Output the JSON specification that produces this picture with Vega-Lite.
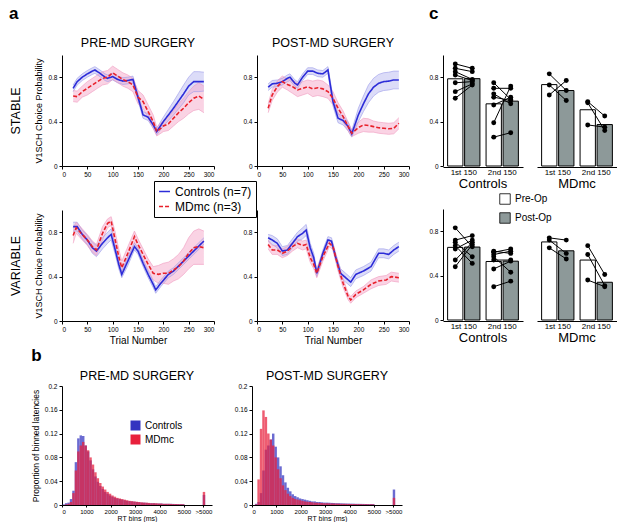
{
  "$schema": "https://vega.github.io/schema/vega-lite/v6.json",
  "padding": {"left": 9, "top": 4, "right": 1, "bottom": 1},
  "config": {
    "font": "Liberation Sans",
    "view": {"stroke": null},
    "title": {"font": "Liberation Sans", "fontSize": 12.5, "fontWeight": "normal", "color": "black", "offset": 6},
    "axis": {"grid": false, "labelOverlap": false, "labelFont": "Liberation Sans", "labelFontSize": 6.5, "labelColor": "black", "titleFont": "Liberation Sans", "titleFontSize": 9, "titleFontWeight": "normal", "titleColor": "black", "domainColor": "black", "tickColor": "black", "tickSize": 3, "labelPadding": 2, "titlePadding": 3},
    "axisY": {"titlePadding": 4},
    "header": {"labelFont": "Liberation Sans", "labelColor": "black"},
    "legend": {"labelFont": "Liberation Sans", "labelColor": "black"}
  },
  "datasets": {
    "curves": [
      {"p":"SPre","g":"C","t":22,"m":0.7,"lo":0.67,"hi":0.73},{"p":"SPre","g":"C","t":30,"m":0.76,"lo":0.73,"hi":0.79},{"p":"SPre","g":"C","t":40,"m":0.8,"lo":0.77,"hi":0.83},{"p":"SPre","g":"C","t":50,"m":0.83,"lo":0.8,"hi":0.86},{"p":"SPre","g":"C","t":60,"m":0.855,"lo":0.825,"hi":0.885},{"p":"SPre","g":"C","t":65,"m":0.865,"lo":0.835,"hi":0.895},{"p":"SPre","g":"C","t":75,"m":0.835,"lo":0.805,"hi":0.865},{"p":"SPre","g":"C","t":85,"m":0.8,"lo":0.77,"hi":0.83},{"p":"SPre","g":"C","t":90,"m":0.79,"lo":0.76,"hi":0.82},{"p":"SPre","g":"C","t":100,"m":0.805,"lo":0.775,"hi":0.835},{"p":"SPre","g":"C","t":110,"m":0.78,"lo":0.75,"hi":0.81},{"p":"SPre","g":"C","t":120,"m":0.765,"lo":0.735,"hi":0.795},{"p":"SPre","g":"C","t":130,"m":0.77,"lo":0.74,"hi":0.8},{"p":"SPre","g":"C","t":140,"m":0.78,"lo":0.75,"hi":0.81},{"p":"SPre","g":"C","t":150,"m":0.62,"lo":0.59,"hi":0.65},{"p":"SPre","g":"C","t":160,"m":0.46,"lo":0.43,"hi":0.49},{"p":"SPre","g":"C","t":170,"m":0.44,"lo":0.41,"hi":0.47},{"p":"SPre","g":"C","t":180,"m":0.37,"lo":0.34,"hi":0.4},{"p":"SPre","g":"C","t":187,"m":0.31,"lo":0.28,"hi":0.34},{"p":"SPre","g":"C","t":200,"m":0.4,"lo":0.36,"hi":0.44},{"p":"SPre","g":"C","t":210,"m":0.46,"lo":0.41,"hi":0.51},{"p":"SPre","g":"C","t":220,"m":0.52,"lo":0.46,"hi":0.58},{"p":"SPre","g":"C","t":230,"m":0.585,"lo":0.515,"hi":0.655},{"p":"SPre","g":"C","t":240,"m":0.65,"lo":0.57,"hi":0.73},{"p":"SPre","g":"C","t":250,"m":0.72,"lo":0.64,"hi":0.8},{"p":"SPre","g":"C","t":260,"m":0.76,"lo":0.67,"hi":0.85},{"p":"SPre","g":"C","t":270,"m":0.76,"lo":0.67,"hi":0.85},{"p":"SPre","g":"C","t":280,"m":0.76,"lo":0.675,"hi":0.845},
      {"p":"SPre","g":"M","t":22,"m":0.63,"lo":0.58,"hi":0.68},{"p":"SPre","g":"M","t":30,"m":0.625,"lo":0.575,"hi":0.675},{"p":"SPre","g":"M","t":40,"m":0.67,"lo":0.62,"hi":0.72},{"p":"SPre","g":"M","t":50,"m":0.7,"lo":0.64,"hi":0.76},{"p":"SPre","g":"M","t":60,"m":0.73,"lo":0.67,"hi":0.79},{"p":"SPre","g":"M","t":70,"m":0.76,"lo":0.7,"hi":0.82},{"p":"SPre","g":"M","t":80,"m":0.79,"lo":0.73,"hi":0.85},{"p":"SPre","g":"M","t":90,"m":0.8,"lo":0.74,"hi":0.86},{"p":"SPre","g":"M","t":100,"m":0.84,"lo":0.78,"hi":0.9},{"p":"SPre","g":"M","t":110,"m":0.81,"lo":0.75,"hi":0.87},{"p":"SPre","g":"M","t":120,"m":0.78,"lo":0.72,"hi":0.84},{"p":"SPre","g":"M","t":130,"m":0.76,"lo":0.7,"hi":0.82},{"p":"SPre","g":"M","t":140,"m":0.73,"lo":0.67,"hi":0.79},{"p":"SPre","g":"M","t":150,"m":0.62,"lo":0.56,"hi":0.68},{"p":"SPre","g":"M","t":160,"m":0.58,"lo":0.52,"hi":0.64},{"p":"SPre","g":"M","t":170,"m":0.49,"lo":0.43,"hi":0.55},{"p":"SPre","g":"M","t":180,"m":0.4,"lo":0.34,"hi":0.46},{"p":"SPre","g":"M","t":187,"m":0.31,"lo":0.27,"hi":0.35},{"p":"SPre","g":"M","t":200,"m":0.36,"lo":0.31,"hi":0.41},{"p":"SPre","g":"M","t":210,"m":0.38,"lo":0.32,"hi":0.44},{"p":"SPre","g":"M","t":220,"m":0.43,"lo":0.36,"hi":0.5},{"p":"SPre","g":"M","t":230,"m":0.48,"lo":0.4,"hi":0.56},{"p":"SPre","g":"M","t":240,"m":0.52,"lo":0.43,"hi":0.61},{"p":"SPre","g":"M","t":250,"m":0.57,"lo":0.47,"hi":0.67},{"p":"SPre","g":"M","t":260,"m":0.61,"lo":0.5,"hi":0.72},{"p":"SPre","g":"M","t":270,"m":0.63,"lo":0.51,"hi":0.75},{"p":"SPre","g":"M","t":280,"m":0.6,"lo":0.48,"hi":0.72},
      {"p":"SPost","g":"C","t":22,"m":0.71,"lo":0.68,"hi":0.74},{"p":"SPost","g":"C","t":30,"m":0.74,"lo":0.71,"hi":0.77},{"p":"SPost","g":"C","t":40,"m":0.745,"lo":0.715,"hi":0.775},{"p":"SPost","g":"C","t":50,"m":0.76,"lo":0.73,"hi":0.79},{"p":"SPost","g":"C","t":60,"m":0.79,"lo":0.76,"hi":0.82},{"p":"SPost","g":"C","t":65,"m":0.8,"lo":0.77,"hi":0.83},{"p":"SPost","g":"C","t":75,"m":0.745,"lo":0.715,"hi":0.775},{"p":"SPost","g":"C","t":80,"m":0.73,"lo":0.7,"hi":0.76},{"p":"SPost","g":"C","t":90,"m":0.8,"lo":0.77,"hi":0.83},{"p":"SPost","g":"C","t":100,"m":0.855,"lo":0.825,"hi":0.885},{"p":"SPost","g":"C","t":110,"m":0.855,"lo":0.825,"hi":0.885},{"p":"SPost","g":"C","t":120,"m":0.835,"lo":0.805,"hi":0.865},{"p":"SPost","g":"C","t":130,"m":0.83,"lo":0.8,"hi":0.86},{"p":"SPost","g":"C","t":140,"m":0.865,"lo":0.835,"hi":0.895},{"p":"SPost","g":"C","t":150,"m":0.58,"lo":0.54,"hi":0.62},{"p":"SPost","g":"C","t":160,"m":0.43,"lo":0.39,"hi":0.47},{"p":"SPost","g":"C","t":170,"m":0.41,"lo":0.37,"hi":0.45},{"p":"SPost","g":"C","t":180,"m":0.355,"lo":0.315,"hi":0.395},{"p":"SPost","g":"C","t":187,"m":0.29,"lo":0.26,"hi":0.32},{"p":"SPost","g":"C","t":200,"m":0.46,"lo":0.4,"hi":0.52},{"p":"SPost","g":"C","t":210,"m":0.56,"lo":0.49,"hi":0.63},{"p":"SPost","g":"C","t":220,"m":0.65,"lo":0.57,"hi":0.73},{"p":"SPost","g":"C","t":230,"m":0.71,"lo":0.63,"hi":0.79},{"p":"SPost","g":"C","t":240,"m":0.745,"lo":0.665,"hi":0.825},{"p":"SPost","g":"C","t":250,"m":0.76,"lo":0.68,"hi":0.84},{"p":"SPost","g":"C","t":260,"m":0.765,"lo":0.685,"hi":0.845},{"p":"SPost","g":"C","t":270,"m":0.775,"lo":0.695,"hi":0.855},{"p":"SPost","g":"C","t":280,"m":0.775,"lo":0.695,"hi":0.855},
      {"p":"SPost","g":"M","t":22,"m":0.52,"lo":0.48,"hi":0.56},{"p":"SPost","g":"M","t":30,"m":0.64,"lo":0.59,"hi":0.69},{"p":"SPost","g":"M","t":40,"m":0.715,"lo":0.665,"hi":0.765},{"p":"SPost","g":"M","t":50,"m":0.76,"lo":0.71,"hi":0.81},{"p":"SPost","g":"M","t":60,"m":0.735,"lo":0.685,"hi":0.785},{"p":"SPost","g":"M","t":70,"m":0.715,"lo":0.655,"hi":0.775},{"p":"SPost","g":"M","t":80,"m":0.685,"lo":0.625,"hi":0.745},{"p":"SPost","g":"M","t":90,"m":0.7,"lo":0.64,"hi":0.76},{"p":"SPost","g":"M","t":100,"m":0.715,"lo":0.655,"hi":0.775},{"p":"SPost","g":"M","t":110,"m":0.695,"lo":0.625,"hi":0.765},{"p":"SPost","g":"M","t":120,"m":0.705,"lo":0.635,"hi":0.775},{"p":"SPost","g":"M","t":130,"m":0.695,"lo":0.625,"hi":0.765},{"p":"SPost","g":"M","t":140,"m":0.67,"lo":0.61,"hi":0.73},{"p":"SPost","g":"M","t":150,"m":0.61,"lo":0.55,"hi":0.67},{"p":"SPost","g":"M","t":160,"m":0.52,"lo":0.47,"hi":0.57},{"p":"SPost","g":"M","t":170,"m":0.445,"lo":0.395,"hi":0.495},{"p":"SPost","g":"M","t":180,"m":0.355,"lo":0.315,"hi":0.395},{"p":"SPost","g":"M","t":187,"m":0.295,"lo":0.265,"hi":0.325},{"p":"SPost","g":"M","t":200,"m":0.345,"lo":0.295,"hi":0.395},{"p":"SPost","g":"M","t":210,"m":0.37,"lo":0.31,"hi":0.43},{"p":"SPost","g":"M","t":220,"m":0.365,"lo":0.305,"hi":0.425},{"p":"SPost","g":"M","t":230,"m":0.355,"lo":0.305,"hi":0.405},{"p":"SPost","g":"M","t":240,"m":0.345,"lo":0.295,"hi":0.395},{"p":"SPost","g":"M","t":250,"m":0.34,"lo":0.29,"hi":0.39},{"p":"SPost","g":"M","t":260,"m":0.335,"lo":0.285,"hi":0.385},{"p":"SPost","g":"M","t":270,"m":0.34,"lo":0.29,"hi":0.39},{"p":"SPost","g":"M","t":280,"m":0.385,"lo":0.335,"hi":0.435},
      {"p":"VPre","g":"C","t":22,"m":0.85,"lo":0.81,"hi":0.89},{"p":"VPre","g":"C","t":30,"m":0.85,"lo":0.81,"hi":0.89},{"p":"VPre","g":"C","t":40,"m":0.78,"lo":0.74,"hi":0.82},{"p":"VPre","g":"C","t":50,"m":0.73,"lo":0.69,"hi":0.77},{"p":"VPre","g":"C","t":60,"m":0.66,"lo":0.61,"hi":0.71},{"p":"VPre","g":"C","t":68,"m":0.63,"lo":0.58,"hi":0.68},{"p":"VPre","g":"C","t":80,"m":0.7,"lo":0.65,"hi":0.75},{"p":"VPre","g":"C","t":90,"m":0.75,"lo":0.7,"hi":0.8},{"p":"VPre","g":"C","t":97,"m":0.78,"lo":0.73,"hi":0.83},{"p":"VPre","g":"C","t":105,"m":0.64,"lo":0.6,"hi":0.68},{"p":"VPre","g":"C","t":112,"m":0.51,"lo":0.47,"hi":0.55},{"p":"VPre","g":"C","t":118,"m":0.42,"lo":0.39,"hi":0.45},{"p":"VPre","g":"C","t":130,"m":0.54,"lo":0.5,"hi":0.58},{"p":"VPre","g":"C","t":143,"m":0.67,"lo":0.64,"hi":0.7},{"p":"VPre","g":"C","t":150,"m":0.63,"lo":0.6,"hi":0.66},{"p":"VPre","g":"C","t":160,"m":0.52,"lo":0.49,"hi":0.55},{"p":"VPre","g":"C","t":170,"m":0.42,"lo":0.39,"hi":0.45},{"p":"VPre","g":"C","t":180,"m":0.33,"lo":0.3,"hi":0.36},{"p":"VPre","g":"C","t":185,"m":0.28,"lo":0.25,"hi":0.31},{"p":"VPre","g":"C","t":195,"m":0.34,"lo":0.31,"hi":0.37},{"p":"VPre","g":"C","t":210,"m":0.42,"lo":0.39,"hi":0.45},{"p":"VPre","g":"C","t":220,"m":0.45,"lo":0.42,"hi":0.48},{"p":"VPre","g":"C","t":240,"m":0.54,"lo":0.51,"hi":0.57},{"p":"VPre","g":"C","t":260,"m":0.63,"lo":0.6,"hi":0.66},{"p":"VPre","g":"C","t":280,"m":0.72,"lo":0.69,"hi":0.75},
      {"p":"VPre","g":"M","t":22,"m":0.77,"lo":0.7,"hi":0.84},{"p":"VPre","g":"M","t":28,"m":0.84,"lo":0.79,"hi":0.89},{"p":"VPre","g":"M","t":40,"m":0.78,"lo":0.73,"hi":0.83},{"p":"VPre","g":"M","t":50,"m":0.73,"lo":0.68,"hi":0.78},{"p":"VPre","g":"M","t":60,"m":0.67,"lo":0.62,"hi":0.72},{"p":"VPre","g":"M","t":68,"m":0.64,"lo":0.59,"hi":0.69},{"p":"VPre","g":"M","t":80,"m":0.79,"lo":0.73,"hi":0.85},{"p":"VPre","g":"M","t":90,"m":0.88,"lo":0.84,"hi":0.92},{"p":"VPre","g":"M","t":97,"m":0.9,"lo":0.86,"hi":0.94},{"p":"VPre","g":"M","t":105,"m":0.73,"lo":0.66,"hi":0.8},{"p":"VPre","g":"M","t":112,"m":0.58,"lo":0.51,"hi":0.65},{"p":"VPre","g":"M","t":118,"m":0.48,"lo":0.42,"hi":0.54},{"p":"VPre","g":"M","t":130,"m":0.61,"lo":0.55,"hi":0.67},{"p":"VPre","g":"M","t":143,"m":0.76,"lo":0.71,"hi":0.81},{"p":"VPre","g":"M","t":150,"m":0.69,"lo":0.64,"hi":0.74},{"p":"VPre","g":"M","t":160,"m":0.6,"lo":0.55,"hi":0.65},{"p":"VPre","g":"M","t":170,"m":0.51,"lo":0.46,"hi":0.56},{"p":"VPre","g":"M","t":180,"m":0.43,"lo":0.37,"hi":0.49},{"p":"VPre","g":"M","t":190,"m":0.42,"lo":0.34,"hi":0.5},{"p":"VPre","g":"M","t":200,"m":0.43,"lo":0.34,"hi":0.52},{"p":"VPre","g":"M","t":210,"m":0.43,"lo":0.33,"hi":0.53},{"p":"VPre","g":"M","t":220,"m":0.46,"lo":0.36,"hi":0.56},{"p":"VPre","g":"M","t":230,"m":0.49,"lo":0.38,"hi":0.6},{"p":"VPre","g":"M","t":240,"m":0.54,"lo":0.42,"hi":0.66},{"p":"VPre","g":"M","t":250,"m":0.61,"lo":0.47,"hi":0.75},{"p":"VPre","g":"M","t":260,"m":0.66,"lo":0.51,"hi":0.81},{"p":"VPre","g":"M","t":270,"m":0.67,"lo":0.51,"hi":0.83},{"p":"VPre","g":"M","t":280,"m":0.66,"lo":0.51,"hi":0.81},
      {"p":"VPost","g":"C","t":22,"m":0.75,"lo":0.72,"hi":0.78},{"p":"VPost","g":"C","t":30,"m":0.73,"lo":0.69,"hi":0.77},{"p":"VPost","g":"C","t":40,"m":0.7,"lo":0.66,"hi":0.74},{"p":"VPost","g":"C","t":50,"m":0.63,"lo":0.59,"hi":0.67},{"p":"VPost","g":"C","t":60,"m":0.64,"lo":0.6,"hi":0.68},{"p":"VPost","g":"C","t":70,"m":0.7,"lo":0.66,"hi":0.74},{"p":"VPost","g":"C","t":80,"m":0.76,"lo":0.72,"hi":0.8},{"p":"VPost","g":"C","t":90,"m":0.79,"lo":0.74,"hi":0.84},{"p":"VPost","g":"C","t":97,"m":0.82,"lo":0.77,"hi":0.87},{"p":"VPost","g":"C","t":105,"m":0.66,"lo":0.62,"hi":0.7},{"p":"VPost","g":"C","t":112,"m":0.57,"lo":0.53,"hi":0.61},{"p":"VPost","g":"C","t":118,"m":0.43,"lo":0.4,"hi":0.46},{"p":"VPost","g":"C","t":130,"m":0.61,"lo":0.58,"hi":0.64},{"p":"VPost","g":"C","t":140,"m":0.73,"lo":0.7,"hi":0.76},{"p":"VPost","g":"C","t":147,"m":0.72,"lo":0.69,"hi":0.75},{"p":"VPost","g":"C","t":155,"m":0.58,"lo":0.55,"hi":0.61},{"p":"VPost","g":"C","t":165,"m":0.43,"lo":0.39,"hi":0.47},{"p":"VPost","g":"C","t":175,"m":0.39,"lo":0.35,"hi":0.43},{"p":"VPost","g":"C","t":185,"m":0.35,"lo":0.31,"hi":0.39},{"p":"VPost","g":"C","t":195,"m":0.42,"lo":0.38,"hi":0.46},{"p":"VPost","g":"C","t":210,"m":0.45,"lo":0.41,"hi":0.49},{"p":"VPost","g":"C","t":225,"m":0.49,"lo":0.45,"hi":0.53},{"p":"VPost","g":"C","t":240,"m":0.61,"lo":0.57,"hi":0.65},{"p":"VPost","g":"C","t":250,"m":0.61,"lo":0.57,"hi":0.65},{"p":"VPost","g":"C","t":260,"m":0.6,"lo":0.56,"hi":0.64},{"p":"VPost","g":"C","t":270,"m":0.64,"lo":0.6,"hi":0.68},{"p":"VPost","g":"C","t":280,"m":0.67,"lo":0.63,"hi":0.71},
      {"p":"VPost","g":"M","t":22,"m":0.69,"lo":0.65,"hi":0.73},{"p":"VPost","g":"M","t":30,"m":0.64,"lo":0.6,"hi":0.68},{"p":"VPost","g":"M","t":40,"m":0.64,"lo":0.6,"hi":0.68},{"p":"VPost","g":"M","t":50,"m":0.61,"lo":0.57,"hi":0.65},{"p":"VPost","g":"M","t":60,"m":0.63,"lo":0.59,"hi":0.67},{"p":"VPost","g":"M","t":70,"m":0.67,"lo":0.63,"hi":0.71},{"p":"VPost","g":"M","t":80,"m":0.7,"lo":0.66,"hi":0.74},{"p":"VPost","g":"M","t":90,"m":0.68,"lo":0.64,"hi":0.72},{"p":"VPost","g":"M","t":97,"m":0.69,"lo":0.65,"hi":0.73},{"p":"VPost","g":"M","t":105,"m":0.57,"lo":0.53,"hi":0.61},{"p":"VPost","g":"M","t":112,"m":0.51,"lo":0.47,"hi":0.55},{"p":"VPost","g":"M","t":118,"m":0.43,"lo":0.39,"hi":0.47},{"p":"VPost","g":"M","t":130,"m":0.58,"lo":0.54,"hi":0.62},{"p":"VPost","g":"M","t":143,"m":0.7,"lo":0.67,"hi":0.73},{"p":"VPost","g":"M","t":150,"m":0.67,"lo":0.64,"hi":0.7},{"p":"VPost","g":"M","t":160,"m":0.49,"lo":0.45,"hi":0.53},{"p":"VPost","g":"M","t":170,"m":0.34,"lo":0.3,"hi":0.38},{"p":"VPost","g":"M","t":180,"m":0.22,"lo":0.19,"hi":0.25},{"p":"VPost","g":"M","t":185,"m":0.19,"lo":0.16,"hi":0.22},{"p":"VPost","g":"M","t":195,"m":0.24,"lo":0.21,"hi":0.27},{"p":"VPost","g":"M","t":210,"m":0.28,"lo":0.25,"hi":0.31},{"p":"VPost","g":"M","t":225,"m":0.33,"lo":0.29,"hi":0.37},{"p":"VPost","g":"M","t":240,"m":0.36,"lo":0.32,"hi":0.4},{"p":"VPost","g":"M","t":255,"m":0.37,"lo":0.33,"hi":0.41},{"p":"VPost","g":"M","t":265,"m":0.4,"lo":0.36,"hi":0.44},{"p":"VPost","g":"M","t":280,"m":0.39,"lo":0.35,"hi":0.43}
    ],
    "dots": [
      {"s":"S","grp":"Controls","per":"1st 150","id":1,"op":"Pre-Op","v":0.92},{"s":"S","grp":"Controls","per":"1st 150","id":1,"op":"Post-Op","v":0.88},
      {"s":"S","grp":"Controls","per":"1st 150","id":2,"op":"Pre-Op","v":0.88},{"s":"S","grp":"Controls","per":"1st 150","id":2,"op":"Post-Op","v":0.85},
      {"s":"S","grp":"Controls","per":"1st 150","id":3,"op":"Pre-Op","v":0.85},{"s":"S","grp":"Controls","per":"1st 150","id":3,"op":"Post-Op","v":0.78},
      {"s":"S","grp":"Controls","per":"1st 150","id":4,"op":"Pre-Op","v":0.82},{"s":"S","grp":"Controls","per":"1st 150","id":4,"op":"Post-Op","v":0.77},
      {"s":"S","grp":"Controls","per":"1st 150","id":5,"op":"Pre-Op","v":0.75},{"s":"S","grp":"Controls","per":"1st 150","id":5,"op":"Post-Op","v":0.76},
      {"s":"S","grp":"Controls","per":"1st 150","id":6,"op":"Pre-Op","v":0.67},{"s":"S","grp":"Controls","per":"1st 150","id":6,"op":"Post-Op","v":0.74},
      {"s":"S","grp":"Controls","per":"1st 150","id":7,"op":"Pre-Op","v":0.61},{"s":"S","grp":"Controls","per":"1st 150","id":7,"op":"Post-Op","v":0.73},
      {"s":"S","grp":"Controls","per":"2nd 150","id":1,"op":"Pre-Op","v":0.75},{"s":"S","grp":"Controls","per":"2nd 150","id":1,"op":"Post-Op","v":0.6},
      {"s":"S","grp":"Controls","per":"2nd 150","id":2,"op":"Pre-Op","v":0.7},{"s":"S","grp":"Controls","per":"2nd 150","id":2,"op":"Post-Op","v":0.7},
      {"s":"S","grp":"Controls","per":"2nd 150","id":3,"op":"Pre-Op","v":0.65},{"s":"S","grp":"Controls","per":"2nd 150","id":3,"op":"Post-Op","v":0.56},
      {"s":"S","grp":"Controls","per":"2nd 150","id":4,"op":"Pre-Op","v":0.62},{"s":"S","grp":"Controls","per":"2nd 150","id":4,"op":"Post-Op","v":0.59},
      {"s":"S","grp":"Controls","per":"2nd 150","id":5,"op":"Pre-Op","v":0.55},{"s":"S","grp":"Controls","per":"2nd 150","id":5,"op":"Post-Op","v":0.62},
      {"s":"S","grp":"Controls","per":"2nd 150","id":6,"op":"Pre-Op","v":0.39},{"s":"S","grp":"Controls","per":"2nd 150","id":6,"op":"Post-Op","v":0.72},
      {"s":"S","grp":"Controls","per":"2nd 150","id":7,"op":"Pre-Op","v":0.26},{"s":"S","grp":"Controls","per":"2nd 150","id":7,"op":"Post-Op","v":0.3},
      {"s":"S","grp":"MDmc","per":"1st 150","id":8,"op":"Pre-Op","v":0.83},{"s":"S","grp":"MDmc","per":"1st 150","id":8,"op":"Post-Op","v":0.68},
      {"s":"S","grp":"MDmc","per":"1st 150","id":9,"op":"Pre-Op","v":0.73},{"s":"S","grp":"MDmc","per":"1st 150","id":9,"op":"Post-Op","v":0.59},
      {"s":"S","grp":"MDmc","per":"1st 150","id":10,"op":"Pre-Op","v":0.64},{"s":"S","grp":"MDmc","per":"1st 150","id":10,"op":"Post-Op","v":0.77},
      {"s":"S","grp":"MDmc","per":"2nd 150","id":8,"op":"Pre-Op","v":0.58},{"s":"S","grp":"MDmc","per":"2nd 150","id":8,"op":"Post-Op","v":0.45},
      {"s":"S","grp":"MDmc","per":"2nd 150","id":9,"op":"Pre-Op","v":0.57},{"s":"S","grp":"MDmc","per":"2nd 150","id":9,"op":"Post-Op","v":0.32},
      {"s":"S","grp":"MDmc","per":"2nd 150","id":10,"op":"Pre-Op","v":0.37},{"s":"S","grp":"MDmc","per":"2nd 150","id":10,"op":"Post-Op","v":0.35},
      {"s":"V","grp":"Controls","per":"1st 150","id":1,"op":"Pre-Op","v":0.83},{"s":"V","grp":"Controls","per":"1st 150","id":1,"op":"Post-Op","v":0.66},
      {"s":"V","grp":"Controls","per":"1st 150","id":2,"op":"Pre-Op","v":0.72},{"s":"V","grp":"Controls","per":"1st 150","id":2,"op":"Post-Op","v":0.76},
      {"s":"V","grp":"Controls","per":"1st 150","id":3,"op":"Pre-Op","v":0.7},{"s":"V","grp":"Controls","per":"1st 150","id":3,"op":"Post-Op","v":0.57},
      {"s":"V","grp":"Controls","per":"1st 150","id":4,"op":"Pre-Op","v":0.67},{"s":"V","grp":"Controls","per":"1st 150","id":4,"op":"Post-Op","v":0.51},
      {"s":"V","grp":"Controls","per":"1st 150","id":5,"op":"Pre-Op","v":0.64},{"s":"V","grp":"Controls","per":"1st 150","id":5,"op":"Post-Op","v":0.72},
      {"s":"V","grp":"Controls","per":"1st 150","id":6,"op":"Pre-Op","v":0.54},{"s":"V","grp":"Controls","per":"1st 150","id":6,"op":"Post-Op","v":0.7},
      {"s":"V","grp":"Controls","per":"1st 150","id":7,"op":"Pre-Op","v":0.48},{"s":"V","grp":"Controls","per":"1st 150","id":7,"op":"Post-Op","v":0.68},
      {"s":"V","grp":"Controls","per":"2nd 150","id":1,"op":"Pre-Op","v":0.62},{"s":"V","grp":"Controls","per":"2nd 150","id":1,"op":"Post-Op","v":0.6},
      {"s":"V","grp":"Controls","per":"2nd 150","id":2,"op":"Pre-Op","v":0.61},{"s":"V","grp":"Controls","per":"2nd 150","id":2,"op":"Post-Op","v":0.64},
      {"s":"V","grp":"Controls","per":"2nd 150","id":3,"op":"Pre-Op","v":0.59},{"s":"V","grp":"Controls","per":"2nd 150","id":3,"op":"Post-Op","v":0.62},
      {"s":"V","grp":"Controls","per":"2nd 150","id":4,"op":"Pre-Op","v":0.57},{"s":"V","grp":"Controls","per":"2nd 150","id":4,"op":"Post-Op","v":0.43},
      {"s":"V","grp":"Controls","per":"2nd 150","id":5,"op":"Pre-Op","v":0.54},{"s":"V","grp":"Controls","per":"2nd 150","id":5,"op":"Post-Op","v":0.54},
      {"s":"V","grp":"Controls","per":"2nd 150","id":6,"op":"Pre-Op","v":0.46},{"s":"V","grp":"Controls","per":"2nd 150","id":6,"op":"Post-Op","v":0.53},
      {"s":"V","grp":"Controls","per":"2nd 150","id":7,"op":"Pre-Op","v":0.3},{"s":"V","grp":"Controls","per":"2nd 150","id":7,"op":"Post-Op","v":0.35},
      {"s":"V","grp":"MDmc","per":"1st 150","id":8,"op":"Pre-Op","v":0.74},{"s":"V","grp":"MDmc","per":"1st 150","id":8,"op":"Post-Op","v":0.72},
      {"s":"V","grp":"MDmc","per":"1st 150","id":9,"op":"Pre-Op","v":0.72},{"s":"V","grp":"MDmc","per":"1st 150","id":9,"op":"Post-Op","v":0.6},
      {"s":"V","grp":"MDmc","per":"1st 150","id":10,"op":"Pre-Op","v":0.65},{"s":"V","grp":"MDmc","per":"1st 150","id":10,"op":"Post-Op","v":0.55},
      {"s":"V","grp":"MDmc","per":"2nd 150","id":8,"op":"Pre-Op","v":0.67},{"s":"V","grp":"MDmc","per":"2nd 150","id":8,"op":"Post-Op","v":0.41},
      {"s":"V","grp":"MDmc","per":"2nd 150","id":9,"op":"Pre-Op","v":0.59},{"s":"V","grp":"MDmc","per":"2nd 150","id":9,"op":"Post-Op","v":0.31},
      {"s":"V","grp":"MDmc","per":"2nd 150","id":10,"op":"Pre-Op","v":0.36},{"s":"V","grp":"MDmc","per":"2nd 150","id":10,"op":"Post-Op","v":0.3}
    ],
    "hist": [
      {"s":"pre","g":"Controls","b":0,"v":0.001},{"s":"pre","g":"Controls","b":100,"v":0.003},{"s":"pre","g":"Controls","b":200,"v":0.004},{"s":"pre","g":"Controls","b":300,"v":0.01},{"s":"pre","g":"Controls","b":400,"v":0.024},{"s":"pre","g":"Controls","b":500,"v":0.072},{"s":"pre","g":"Controls","b":600,"v":0.112},{"s":"pre","g":"Controls","b":700,"v":0.117},{"s":"pre","g":"Controls","b":800,"v":0.116},{"s":"pre","g":"Controls","b":900,"v":0.1},{"s":"pre","g":"Controls","b":1000,"v":0.09},{"s":"pre","g":"Controls","b":1100,"v":0.075},{"s":"pre","g":"Controls","b":1200,"v":0.06},{"s":"pre","g":"Controls","b":1300,"v":0.048},{"s":"pre","g":"Controls","b":1400,"v":0.039},{"s":"pre","g":"Controls","b":1500,"v":0.032},{"s":"pre","g":"Controls","b":1600,"v":0.027},{"s":"pre","g":"Controls","b":1700,"v":0.022},{"s":"pre","g":"Controls","b":1800,"v":0.019},{"s":"pre","g":"Controls","b":1900,"v":0.016},{"s":"pre","g":"Controls","b":2000,"v":0.014},{"s":"pre","g":"Controls","b":2100,"v":0.012},{"s":"pre","g":"Controls","b":2200,"v":0.011},{"s":"pre","g":"Controls","b":2300,"v":0.01},{"s":"pre","g":"Controls","b":2400,"v":0.009},{"s":"pre","g":"Controls","b":2500,"v":0.008},{"s":"pre","g":"Controls","b":2600,"v":0.007},{"s":"pre","g":"Controls","b":2700,"v":0.0065},{"s":"pre","g":"Controls","b":2800,"v":0.006},{"s":"pre","g":"Controls","b":2900,"v":0.0055},{"s":"pre","g":"Controls","b":3000,"v":0.005},{"s":"pre","g":"Controls","b":3100,"v":0.0045},{"s":"pre","g":"Controls","b":3200,"v":0.004},{"s":"pre","g":"Controls","b":3300,"v":0.004},{"s":"pre","g":"Controls","b":3400,"v":0.0035},{"s":"pre","g":"Controls","b":3500,"v":0.003},{"s":"pre","g":"Controls","b":3600,"v":0.003},{"s":"pre","g":"Controls","b":3700,"v":0.003},{"s":"pre","g":"Controls","b":3800,"v":0.0025},{"s":"pre","g":"Controls","b":3900,"v":0.0025},{"s":"pre","g":"Controls","b":4000,"v":0.0025},{"s":"pre","g":"Controls","b":4100,"v":0.002},{"s":"pre","g":"Controls","b":4200,"v":0.002},{"s":"pre","g":"Controls","b":4300,"v":0.002},{"s":"pre","g":"Controls","b":4400,"v":0.002},{"s":"pre","g":"Controls","b":4500,"v":0.0018},{"s":"pre","g":"Controls","b":4600,"v":0.0016},{"s":"pre","g":"Controls","b":4700,"v":0.0015},{"s":"pre","g":"Controls","b":4800,"v":0.0014},{"s":"pre","g":"Controls","b":4900,"v":0.0013},{"s":"pre","g":"Controls","b":5750,"v":0.017},
      {"s":"pre","g":"MDmc","b":100,"v":0.001},{"s":"pre","g":"MDmc","b":200,"v":0.002},{"s":"pre","g":"MDmc","b":300,"v":0.005},{"s":"pre","g":"MDmc","b":400,"v":0.02},{"s":"pre","g":"MDmc","b":500,"v":0.058},{"s":"pre","g":"MDmc","b":600,"v":0.09},{"s":"pre","g":"MDmc","b":700,"v":0.1},{"s":"pre","g":"MDmc","b":800,"v":0.106},{"s":"pre","g":"MDmc","b":900,"v":0.1},{"s":"pre","g":"MDmc","b":1000,"v":0.092},{"s":"pre","g":"MDmc","b":1100,"v":0.08},{"s":"pre","g":"MDmc","b":1200,"v":0.068},{"s":"pre","g":"MDmc","b":1300,"v":0.055},{"s":"pre","g":"MDmc","b":1400,"v":0.045},{"s":"pre","g":"MDmc","b":1500,"v":0.037},{"s":"pre","g":"MDmc","b":1600,"v":0.031},{"s":"pre","g":"MDmc","b":1700,"v":0.026},{"s":"pre","g":"MDmc","b":1800,"v":0.022},{"s":"pre","g":"MDmc","b":1900,"v":0.019},{"s":"pre","g":"MDmc","b":2000,"v":0.016},{"s":"pre","g":"MDmc","b":2100,"v":0.014},{"s":"pre","g":"MDmc","b":2200,"v":0.012},{"s":"pre","g":"MDmc","b":2300,"v":0.011},{"s":"pre","g":"MDmc","b":2400,"v":0.01},{"s":"pre","g":"MDmc","b":2500,"v":0.009},{"s":"pre","g":"MDmc","b":2600,"v":0.008},{"s":"pre","g":"MDmc","b":2700,"v":0.007},{"s":"pre","g":"MDmc","b":2800,"v":0.0065},{"s":"pre","g":"MDmc","b":2900,"v":0.006},{"s":"pre","g":"MDmc","b":3000,"v":0.0055},{"s":"pre","g":"MDmc","b":3100,"v":0.005},{"s":"pre","g":"MDmc","b":3200,"v":0.0045},{"s":"pre","g":"MDmc","b":3300,"v":0.004},{"s":"pre","g":"MDmc","b":3400,"v":0.004},{"s":"pre","g":"MDmc","b":3500,"v":0.0035},{"s":"pre","g":"MDmc","b":3600,"v":0.003},{"s":"pre","g":"MDmc","b":3700,"v":0.003},{"s":"pre","g":"MDmc","b":3800,"v":0.003},{"s":"pre","g":"MDmc","b":3900,"v":0.0025},{"s":"pre","g":"MDmc","b":4000,"v":0.0025},{"s":"pre","g":"MDmc","b":4100,"v":0.002},{"s":"pre","g":"MDmc","b":4200,"v":0.002},{"s":"pre","g":"MDmc","b":4300,"v":0.002},{"s":"pre","g":"MDmc","b":4400,"v":0.0018},{"s":"pre","g":"MDmc","b":4500,"v":0.0016},{"s":"pre","g":"MDmc","b":4600,"v":0.0015},{"s":"pre","g":"MDmc","b":4700,"v":0.0014},{"s":"pre","g":"MDmc","b":4800,"v":0.0013},{"s":"pre","g":"MDmc","b":4900,"v":0.0012},{"s":"pre","g":"MDmc","b":5750,"v":0.022},
      {"s":"post","g":"Controls","b":100,"v":0.002},{"s":"post","g":"Controls","b":200,"v":0.005},{"s":"post","g":"Controls","b":300,"v":0.02},{"s":"post","g":"Controls","b":400,"v":0.058},{"s":"post","g":"Controls","b":500,"v":0.093},{"s":"post","g":"Controls","b":600,"v":0.1},{"s":"post","g":"Controls","b":700,"v":0.11},{"s":"post","g":"Controls","b":800,"v":0.12},{"s":"post","g":"Controls","b":900,"v":0.098},{"s":"post","g":"Controls","b":1000,"v":0.08},{"s":"post","g":"Controls","b":1100,"v":0.065},{"s":"post","g":"Controls","b":1200,"v":0.05},{"s":"post","g":"Controls","b":1300,"v":0.038},{"s":"post","g":"Controls","b":1400,"v":0.029},{"s":"post","g":"Controls","b":1500,"v":0.023},{"s":"post","g":"Controls","b":1600,"v":0.018},{"s":"post","g":"Controls","b":1700,"v":0.015},{"s":"post","g":"Controls","b":1800,"v":0.013},{"s":"post","g":"Controls","b":1900,"v":0.011},{"s":"post","g":"Controls","b":2000,"v":0.01},{"s":"post","g":"Controls","b":2100,"v":0.009},{"s":"post","g":"Controls","b":2200,"v":0.008},{"s":"post","g":"Controls","b":2300,"v":0.007},{"s":"post","g":"Controls","b":2400,"v":0.006},{"s":"post","g":"Controls","b":2500,"v":0.006},{"s":"post","g":"Controls","b":2600,"v":0.005},{"s":"post","g":"Controls","b":2700,"v":0.005},{"s":"post","g":"Controls","b":2800,"v":0.0045},{"s":"post","g":"Controls","b":2900,"v":0.004},{"s":"post","g":"Controls","b":3000,"v":0.004},{"s":"post","g":"Controls","b":3100,"v":0.0038},{"s":"post","g":"Controls","b":3200,"v":0.0035},{"s":"post","g":"Controls","b":3300,"v":0.0033},{"s":"post","g":"Controls","b":3400,"v":0.003},{"s":"post","g":"Controls","b":3500,"v":0.003},{"s":"post","g":"Controls","b":3600,"v":0.0028},{"s":"post","g":"Controls","b":3700,"v":0.0026},{"s":"post","g":"Controls","b":3800,"v":0.0025},{"s":"post","g":"Controls","b":3900,"v":0.0024},{"s":"post","g":"Controls","b":4000,"v":0.0023},{"s":"post","g":"Controls","b":4100,"v":0.0022},{"s":"post","g":"Controls","b":4200,"v":0.002},{"s":"post","g":"Controls","b":4300,"v":0.002},{"s":"post","g":"Controls","b":4400,"v":0.0019},{"s":"post","g":"Controls","b":4500,"v":0.0018},{"s":"post","g":"Controls","b":4600,"v":0.0017},{"s":"post","g":"Controls","b":4700,"v":0.0016},{"s":"post","g":"Controls","b":4800,"v":0.0016},{"s":"post","g":"Controls","b":4900,"v":0.0015},{"s":"post","g":"Controls","b":5750,"v":0.026},
      {"s":"post","g":"MDmc","b":100,"v":0.001},{"s":"post","g":"MDmc","b":200,"v":0.043},{"s":"post","g":"MDmc","b":300,"v":0.128},{"s":"post","g":"MDmc","b":400,"v":0.159},{"s":"post","g":"MDmc","b":500,"v":0.148},{"s":"post","g":"MDmc","b":600,"v":0.12},{"s":"post","g":"MDmc","b":700,"v":0.11},{"s":"post","g":"MDmc","b":800,"v":0.1},{"s":"post","g":"MDmc","b":900,"v":0.08},{"s":"post","g":"MDmc","b":1000,"v":0.06},{"s":"post","g":"MDmc","b":1100,"v":0.045},{"s":"post","g":"MDmc","b":1200,"v":0.033},{"s":"post","g":"MDmc","b":1300,"v":0.025},{"s":"post","g":"MDmc","b":1400,"v":0.019},{"s":"post","g":"MDmc","b":1500,"v":0.015},{"s":"post","g":"MDmc","b":1600,"v":0.012},{"s":"post","g":"MDmc","b":1700,"v":0.01},{"s":"post","g":"MDmc","b":1800,"v":0.009},{"s":"post","g":"MDmc","b":1900,"v":0.008},{"s":"post","g":"MDmc","b":2000,"v":0.007},{"s":"post","g":"MDmc","b":2100,"v":0.006},{"s":"post","g":"MDmc","b":2200,"v":0.0055},{"s":"post","g":"MDmc","b":2300,"v":0.005},{"s":"post","g":"MDmc","b":2400,"v":0.0045},{"s":"post","g":"MDmc","b":2500,"v":0.004},{"s":"post","g":"MDmc","b":2600,"v":0.0038},{"s":"post","g":"MDmc","b":2700,"v":0.0035},{"s":"post","g":"MDmc","b":2800,"v":0.0033},{"s":"post","g":"MDmc","b":2900,"v":0.003},{"s":"post","g":"MDmc","b":3000,"v":0.003},{"s":"post","g":"MDmc","b":3100,"v":0.0028},{"s":"post","g":"MDmc","b":3200,"v":0.0026},{"s":"post","g":"MDmc","b":3300,"v":0.0025},{"s":"post","g":"MDmc","b":3400,"v":0.0024},{"s":"post","g":"MDmc","b":3500,"v":0.0022},{"s":"post","g":"MDmc","b":3600,"v":0.002},{"s":"post","g":"MDmc","b":3700,"v":0.002},{"s":"post","g":"MDmc","b":3800,"v":0.0019},{"s":"post","g":"MDmc","b":3900,"v":0.0018},{"s":"post","g":"MDmc","b":4000,"v":0.0017},{"s":"post","g":"MDmc","b":4100,"v":0.0016},{"s":"post","g":"MDmc","b":4200,"v":0.0015},{"s":"post","g":"MDmc","b":4300,"v":0.0015},{"s":"post","g":"MDmc","b":4400,"v":0.0014},{"s":"post","g":"MDmc","b":4500,"v":0.0013},{"s":"post","g":"MDmc","b":4600,"v":0.0013},{"s":"post","g":"MDmc","b":4700,"v":0.0012},{"s":"post","g":"MDmc","b":4800,"v":0.0012},{"s":"post","g":"MDmc","b":4900,"v":0.0011},{"s":"post","g":"MDmc","b":5750,"v":0.012}
    ]
  },
  "resolve": {"scale": {"color": "independent", "fill": "independent", "stroke": "independent", "strokeDash": "independent"}, "legend": {"color": "independent", "fill": "independent", "stroke": "independent", "strokeDash": "independent"}},
  "spacing": 0,
  "vconcat": [
    {
      "resolve": {"scale": {"color": "independent", "fill": "independent", "stroke": "independent", "strokeDash": "independent"}, "legend": {"color": "independent", "fill": "independent", "stroke": "independent", "strokeDash": "independent"}},
      "spacing": 18,
      "hconcat": [
        {
          "title": {"text": "a", "anchor": "start", "fontSize": 17, "fontWeight": "bold", "offset": 14},
          "data": {"name": "curves"},
          "resolve": {"scale": {"color": "independent", "fill": "independent", "stroke": "independent", "strokeDash": "independent"}, "legend": {"color": "independent", "fill": "independent", "stroke": "independent", "strokeDash": "independent"}},
          "spacing": 2,
          "vconcat": [
            {
              "resolve": {"scale": {"color": "independent", "fill": "independent", "stroke": "independent", "strokeDash": "independent"}, "legend": {"color": "independent", "fill": "independent", "stroke": "independent", "strokeDash": "independent"}},
              "bounds": "flush",
              "spacing": 43,
              "hconcat": [
                {
                  "width": 152, "height": 111,
                  "title": "PRE-MD SURGERY",
                  "transform": [{"filter": "datum.p == 'SPre'"}],
                  "resolve": {"scale": {"y": "independent"}},
                  "encoding": {"x": {"field": "t", "type": "quantitative", "scale": {"domain": [0, 300]}, "axis": {"values": [0, 50, 100, 150, 200, 250, 300], "title": null}}},
                  "layer": [
                    {"mark": {"type": "area", "fillOpacity": 0.5}, "encoding": {"y": {"field": "lo", "type": "quantitative", "scale": {"domain": [0, 1]}, "title": "STABLE", "axis": {"orient": "left", "labels": false, "ticks": false, "domain": false, "titleFontSize": 12.5, "titlePadding": 40}}, "y2": {"field": "hi"}, "detail": {"field": "g"}, "fill": {"condition": {"test": "datum.g == 'C'", "value": "#b9b9f2"}, "value": "#f5a8c9"}}},
                    {"layer": [
                      {"mark": {"type": "line", "strokeWidth": 0.6}, "encoding": {"y": {"field": "lo", "type": "quantitative", "scale": {"domain": [0, 1]}, "title": "V1SCH Choice Probability", "axis": {"orient": "left", "values": [0, 0.2, 0.4, 0.6, 0.8, 1], "format": "~g"}}, "detail": {"field": "g"}, "stroke": {"condition": {"test": "datum.g == 'C'", "value": "#9a9aea"}, "value": "#f09ac0"}}},
                      {"mark": {"type": "line", "strokeWidth": 0.6}, "encoding": {"y": {"field": "hi", "type": "quantitative", "title": "V1SCH Choice Probability"}, "detail": {"field": "g"}, "stroke": {"condition": {"test": "datum.g == 'C'", "value": "#9a9aea"}, "value": "#f09ac0"}}},
                      {"mark": {"type": "line", "strokeWidth": 1.6}, "encoding": {"y": {"field": "m", "type": "quantitative", "title": "V1SCH Choice Probability"}, "color": {"field": "g", "type": "nominal", "scale": {"domain": ["C", "M"], "range": ["#2c2cd8", "#e8202a"]}, "legend": null}, "strokeDash": {"field": "g", "type": "nominal", "scale": {"domain": ["C", "M"], "range": [[1, 0], [4, 2]]}, "legend": null}}}
                    ]}
                  ]
                },
                {
                  "width": 152, "height": 111,
                  "title": "POST-MD SURGERY",
                  "transform": [{"filter": "datum.p == 'SPost'"}],
                  "encoding": {"x": {"field": "t", "type": "quantitative", "scale": {"domain": [0, 300]}, "axis": {"values": [0, 50, 100, 150, 200, 250, 300], "title": null}}},
                  "layer": [
                    {"mark": {"type": "area", "fillOpacity": 0.5}, "encoding": {"y": {"field": "lo", "type": "quantitative", "scale": {"domain": [0, 1]}, "title": null, "axis": {"values": [0, 0.2, 0.4, 0.6, 0.8, 1], "format": "~g"}}, "y2": {"field": "hi"}, "detail": {"field": "g"}, "fill": {"condition": {"test": "datum.g == 'C'", "value": "#b9b9f2"}, "value": "#f5a8c9"}}},
                    {"mark": {"type": "line", "strokeWidth": 0.6}, "encoding": {"y": {"field": "lo", "type": "quantitative", "title": null}, "detail": {"field": "g"}, "stroke": {"condition": {"test": "datum.g == 'C'", "value": "#9a9aea"}, "value": "#f09ac0"}}},
                    {"mark": {"type": "line", "strokeWidth": 0.6}, "encoding": {"y": {"field": "hi", "type": "quantitative", "title": null}, "detail": {"field": "g"}, "stroke": {"condition": {"test": "datum.g == 'C'", "value": "#9a9aea"}, "value": "#f09ac0"}}},
                    {"mark": {"type": "line", "strokeWidth": 1.6}, "encoding": {"y": {"field": "m", "type": "quantitative", "title": null}, "color": {"field": "g", "type": "nominal", "scale": {"domain": ["C", "M"], "range": ["#2c2cd8", "#e8202a"]}, "legend": null}, "strokeDash": {"field": "g", "type": "nominal", "scale": {"domain": ["C", "M"], "range": [[1, 0], [4, 2]]}, "legend": null}}}
                  ]
                }
              ]
            },
            {
              "resolve": {"scale": {"color": "independent", "fill": "independent", "stroke": "independent", "strokeDash": "independent"}, "legend": {"color": "independent", "fill": "independent", "stroke": "independent", "strokeDash": "independent"}},
              "bounds": "flush",
              "spacing": 43,
              "hconcat": [
                {
                  "width": 152, "height": 111,
                  "transform": [{"filter": "datum.p == 'VPre'"}],
                  "resolve": {"scale": {"y": "independent"}},
                  "encoding": {"x": {"field": "t", "type": "quantitative", "scale": {"domain": [0, 300]}, "axis": {"values": [0, 50, 100, 150, 200, 250, 300], "title": "Trial Number", "titleFontSize": 10}}},
                  "layer": [
                    {"mark": {"type": "area", "fillOpacity": 0.5}, "encoding": {"y": {"field": "lo", "type": "quantitative", "scale": {"domain": [0, 1]}, "title": "VARIABLE", "axis": {"orient": "left", "labels": false, "ticks": false, "domain": false, "titleFontSize": 12.5, "titlePadding": 40}}, "y2": {"field": "hi"}, "detail": {"field": "g"}, "fill": {"condition": {"test": "datum.g == 'C'", "value": "#b9b9f2"}, "value": "#f5a8c9"}}},
                    {"layer": [
                      {"mark": {"type": "line", "strokeWidth": 0.6}, "encoding": {"y": {"field": "lo", "type": "quantitative", "scale": {"domain": [0, 1]}, "title": "V1SCH Choice Probability", "axis": {"orient": "left", "values": [0, 0.2, 0.4, 0.6, 0.8, 1], "format": "~g"}}, "detail": {"field": "g"}, "stroke": {"condition": {"test": "datum.g == 'C'", "value": "#9a9aea"}, "value": "#f09ac0"}}},
                      {"mark": {"type": "line", "strokeWidth": 0.6}, "encoding": {"y": {"field": "hi", "type": "quantitative", "title": "V1SCH Choice Probability"}, "detail": {"field": "g"}, "stroke": {"condition": {"test": "datum.g == 'C'", "value": "#9a9aea"}, "value": "#f09ac0"}}},
                      {"mark": {"type": "line", "strokeWidth": 1.6}, "encoding": {
                        "y": {"field": "m", "type": "quantitative", "title": "V1SCH Choice Probability"},
                        "color": {"field": "g", "type": "nominal", "scale": {"domain": ["C", "M"], "range": ["#2c2cd8", "#e8202a"]}, "legend": {"orient": "none", "legendX": 92, "legendY": -29, "title": null, "strokeColor": "black", "fillColor": "white", "padding": 4, "labelFontSize": 12, "symbolType": "stroke", "symbolStrokeWidth": 1.6, "symbolSize": 120, "rowPadding": 2, "labelExpr": "datum.label == 'C' ? 'Controls (n=7)' : 'MDmc (n=3)'"}},
                        "strokeDash": {"field": "g", "type": "nominal", "scale": {"domain": ["C", "M"], "range": [[1, 0], [4, 2]]}, "legend": {"orient": "none", "legendX": 92, "legendY": -29, "title": null, "strokeColor": "black", "fillColor": "white", "padding": 4, "labelFontSize": 12, "symbolType": "stroke", "symbolStrokeWidth": 1.6, "symbolSize": 120, "rowPadding": 2, "labelExpr": "datum.label == 'C' ? 'Controls (n=7)' : 'MDmc (n=3)'"}}
                      }}
                    ]}
                  ]
                },
                {
                  "width": 152, "height": 111,
                  "transform": [{"filter": "datum.p == 'VPost'"}],
                  "encoding": {"x": {"field": "t", "type": "quantitative", "scale": {"domain": [0, 300]}, "axis": {"values": [0, 50, 100, 150, 200, 250, 300], "title": "Trial Number", "titleFontSize": 10}}},
                  "layer": [
                    {"mark": {"type": "area", "fillOpacity": 0.5}, "encoding": {"y": {"field": "lo", "type": "quantitative", "scale": {"domain": [0, 1]}, "title": null, "axis": {"values": [0, 0.2, 0.4, 0.6, 0.8, 1], "format": "~g"}}, "y2": {"field": "hi"}, "detail": {"field": "g"}, "fill": {"condition": {"test": "datum.g == 'C'", "value": "#b9b9f2"}, "value": "#f5a8c9"}}},
                    {"mark": {"type": "line", "strokeWidth": 0.6}, "encoding": {"y": {"field": "lo", "type": "quantitative", "title": null}, "detail": {"field": "g"}, "stroke": {"condition": {"test": "datum.g == 'C'", "value": "#9a9aea"}, "value": "#f09ac0"}}},
                    {"mark": {"type": "line", "strokeWidth": 0.6}, "encoding": {"y": {"field": "hi", "type": "quantitative", "title": null}, "detail": {"field": "g"}, "stroke": {"condition": {"test": "datum.g == 'C'", "value": "#9a9aea"}, "value": "#f09ac0"}}},
                    {"mark": {"type": "line", "strokeWidth": 1.6}, "encoding": {"y": {"field": "m", "type": "quantitative", "title": null}, "color": {"field": "g", "type": "nominal", "scale": {"domain": ["C", "M"], "range": ["#2c2cd8", "#e8202a"]}, "legend": null}, "strokeDash": {"field": "g", "type": "nominal", "scale": {"domain": ["C", "M"], "range": [[1, 0], [4, 2]]}, "legend": null}}}
                  ]
                }
              ]
            }
          ]
        },
        {
          "title": {"text": "c", "anchor": "start", "fontSize": 17, "fontWeight": "bold", "offset": 14},
          "data": {"name": "dots"},
          "resolve": {"scale": {"color": "independent", "fill": "independent", "stroke": "independent", "strokeDash": "independent"}, "legend": {"color": "independent", "fill": "independent", "stroke": "independent", "strokeDash": "independent"}},
          "spacing": 2,
          "vconcat": [
            {
              "title": {"text": " ", "fontSize": 12.5},
              "transform": [{"filter": "datum.s == 'S'"}],
              "facet": {"column": {"field": "grp", "type": "nominal", "sort": ["Controls", "MDmc"], "title": null, "header": {"labelOrient": "bottom", "labelFontSize": 13, "labelPadding": 1}}},
              "spacing": 14,
              "spec": {
                "width": 80, "height": 111,
                "layer": [
                  {"mark": {"type": "bar", "stroke": "black", "strokeWidth": 1},
                   "encoding": {
                     "x": {"field": "per", "type": "nominal", "title": null, "scale": {"paddingInner": 0.16, "paddingOuter": 0.12}, "axis": {"labelAngle": 0, "ticks": false, "labelFontSize": 8, "labelPadding": 1.5}},
                     "xOffset": {"field": "op", "type": "nominal", "sort": ["Pre-Op", "Post-Op"], "scale": {"paddingInner": 0.1}},
                     "y": {"aggregate": "mean", "field": "v", "type": "quantitative", "title": null, "scale": {"domain": [0, 1]}, "axis": {"values": [0, 0.2, 0.4, 0.6, 0.8, 1], "format": "~g"}},
                     "fill": {"field": "op", "type": "nominal", "scale": {"domain": ["Pre-Op", "Post-Op"], "range": ["white", "#8d9999"]}, "legend": null}
                   }},
                  {"mark": {"type": "line", "color": "black", "strokeWidth": 1},
                   "encoding": {
                     "x": {"field": "per", "type": "nominal", "title": null},
                     "xOffset": {"field": "op", "type": "nominal", "sort": ["Pre-Op", "Post-Op"]},
                     "y": {"field": "v", "type": "quantitative", "title": null},
                     "detail": [{"field": "id", "type": "nominal"}, {"field": "per", "type": "nominal"}]
                   }},
                  {"mark": {"type": "circle", "color": "black", "size": 24, "opacity": 1},
                   "encoding": {
                     "x": {"field": "per", "type": "nominal", "title": null},
                     "xOffset": {"field": "op", "type": "nominal", "sort": ["Pre-Op", "Post-Op"]},
                     "y": {"field": "v", "type": "quantitative", "title": null}
                   }}
                ]
              }
            },
            {
              "transform": [{"filter": "datum.s == 'V'"}],
              "facet": {"column": {"field": "grp", "type": "nominal", "sort": ["Controls", "MDmc"], "title": null, "header": {"labelOrient": "bottom", "labelFontSize": 13, "labelPadding": 1}}},
              "spacing": 14,
              "spec": {
                "width": 80, "height": 111,
                "layer": [
                  {"mark": {"type": "bar", "stroke": "black", "strokeWidth": 1},
                   "encoding": {
                     "x": {"field": "per", "type": "nominal", "title": null, "scale": {"paddingInner": 0.16, "paddingOuter": 0.12}, "axis": {"labelAngle": 0, "ticks": false, "labelFontSize": 8, "labelPadding": 1.5}},
                     "xOffset": {"field": "op", "type": "nominal", "sort": ["Pre-Op", "Post-Op"], "scale": {"paddingInner": 0.1}},
                     "y": {"aggregate": "mean", "field": "v", "type": "quantitative", "title": null, "scale": {"domain": [0, 1]}, "axis": {"values": [0, 0.2, 0.4, 0.6, 0.8, 1], "format": "~g"}},
                     "fill": {"field": "op", "type": "nominal", "scale": {"domain": ["Pre-Op", "Post-Op"], "range": ["white", "#8d9999"]}, "legend": {"orient": "none", "legendX": 56, "legendY": -16, "title": null, "symbolType": "square", "symbolStrokeColor": "black", "symbolStrokeWidth": 0.8, "symbolSize": 110, "labelFontSize": 10, "rowPadding": 5}}
                   }},
                  {"mark": {"type": "line", "color": "black", "strokeWidth": 1},
                   "encoding": {
                     "x": {"field": "per", "type": "nominal", "title": null},
                     "xOffset": {"field": "op", "type": "nominal", "sort": ["Pre-Op", "Post-Op"]},
                     "y": {"field": "v", "type": "quantitative", "title": null},
                     "detail": [{"field": "id", "type": "nominal"}, {"field": "per", "type": "nominal"}]
                   }},
                  {"mark": {"type": "circle", "color": "black", "size": 24, "opacity": 1},
                   "encoding": {
                     "x": {"field": "per", "type": "nominal", "title": null},
                     "xOffset": {"field": "op", "type": "nominal", "sort": ["Pre-Op", "Post-Op"]},
                     "y": {"field": "v", "type": "quantitative", "title": null}
                   }}
                ]
              }
            }
          ]
        }
      ]
    },
    {
      "title": {"text": "b", "anchor": "start", "fontSize": 17, "fontWeight": "bold", "offset": 5},
      "data": {"name": "hist"},
      "resolve": {"scale": {"color": "independent", "fill": "independent", "stroke": "independent", "strokeDash": "independent"}, "legend": {"color": "independent", "fill": "independent", "stroke": "independent", "strokeDash": "independent"}},
      "spacing": 22,
      "hconcat": [
        {
          "width": 150, "height": 119,
          "title": {"text": "PRE-MD SURGERY", "offset": 1},
          "transform": [{"filter": "datum.s == 'pre'"}],
          "mark": {"type": "bar", "fillOpacity": 0.73, "strokeWidth": 0.6, "strokeOpacity": 0.9, "binSpacing": 0},
          "encoding": {
            "x": {"field": "b", "type": "quantitative", "bin": {"binned": true, "step": 100}, "scale": {"domain": [0, 6150]}, "axis": {"values": [0, 1000, 2000, 3000, 4000, 5000, 5800], "labelExpr": "datum.value > 5000 ? '>5000' : datum.value", "title": "RT bins (ms)", "titleFontSize": 7, "titlePadding": 0, "tickSize": 2, "labelPadding": 1, "labelFontSize": 6}},
            "y": {"field": "v", "type": "quantitative", "stack": null, "scale": {"domain": [0, 0.2]}, "axis": {"values": [0, 0.04, 0.08, 0.12, 0.16, 0.2], "format": "~g", "title": "Proportion of binned latencies", "titleFontSize": 8.5}},
            "color": {"field": "g", "type": "nominal", "scale": {"domain": ["Controls", "MDmc"], "range": ["#3434c0", "#e8203c"]}, "legend": {"orient": "none", "legendX": 68, "legendY": 34, "title": null, "symbolType": "square", "symbolSize": 100, "labelFontSize": 10, "symbolStrokeWidth": 0.8, "rowPadding": 3}}
          }
        },
        {
          "width": 150, "height": 119,
          "title": {"text": "POST-MD SURGERY", "offset": 1},
          "transform": [{"filter": "datum.s == 'post'"}],
          "mark": {"type": "bar", "fillOpacity": 0.73, "strokeWidth": 0.6, "strokeOpacity": 0.9, "binSpacing": 0},
          "encoding": {
            "x": {"field": "b", "type": "quantitative", "bin": {"binned": true, "step": 100}, "scale": {"domain": [0, 6150]}, "axis": {"values": [0, 1000, 2000, 3000, 4000, 5000, 5800], "labelExpr": "datum.value > 5000 ? '>5000' : datum.value", "title": "RT bins (ms)", "titleFontSize": 7, "titlePadding": 0, "tickSize": 2, "labelPadding": 1, "labelFontSize": 6}},
            "y": {"field": "v", "type": "quantitative", "stack": null, "scale": {"domain": [0, 0.2]}, "axis": {"values": [0, 0.04, 0.08, 0.12, 0.16, 0.2], "format": "~g", "title": null}},
            "color": {"field": "g", "type": "nominal", "scale": {"domain": ["Controls", "MDmc"], "range": ["#3434c0", "#e8203c"]}, "legend": null}
          }
        }
      ]
    }
  ]
}
